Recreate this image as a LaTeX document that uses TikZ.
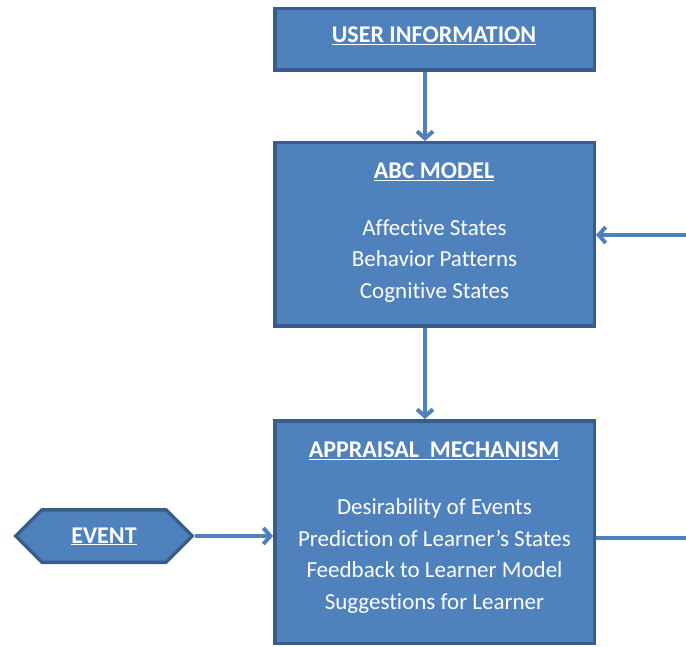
\documentclass[tikz,border=0pt]{standalone}
\usepackage{fontspec}
\setmainfont[Ligatures=NoCommon]{Carlito}
\usetikzlibrary{arrows.meta,shapes.symbols}
\definecolor{boxfill}{HTML}{4F81BD}
\definecolor{boxedge}{HTML}{385D8A}
\begin{document}
\begin{tikzpicture}[x=1pt,y=-1pt,
  box/.style={draw=boxedge, fill=boxfill, line width=3.5pt, inner sep=0pt},
  title/.style={text=white, inner sep=0pt, font=\fontsize{24}{28}\selectfont\bfseries},
  body/.style={text=white, inner sep=0pt, align=center, font=\fontsize{23}{31.7}\selectfont},
  link/.style={draw=boxfill, line width=4pt},
  tip/.style={link, -{Straight Barb[length=7pt,width=16pt]}}]
\useasboundingbox (0,0) rectangle (686,647);

% boxes
\node[box, minimum width=319.5pt, minimum height=61.5pt] (user) at (434.5,39.5) {};
\node[box, minimum width=319.5pt, minimum height=183.5pt] (abc) at (434.5,234.5) {};
\node[box, minimum width=319.5pt, minimum height=222.5pt] (appr) at (434.5,532) {};
\node[box, shape=signal, signal to=west and east, signal pointer angle=90,
      minimum width=176.5pt, minimum height=52.5pt] (ev) at (104,536) {};

% texts
\node[title] (usert) at (434,35.5) {\underline{USER INFORMATION}};
\node[title] (abct) at (434,171.5) {\underline{ABC MODEL}};
\node[body] (abcb) at (434.5,261) {Affective States\\Behavior Patterns\\Cognitive States};
\node[title] (apprt) at (434,450.5) {\underline{APPRAISAL\ \ MECHANISM}};
\node[body] (apprb) at (434.5,556) {Desirability of Events\\Prediction of Learner’s States\\Feedback to Learner Model\\Suggestions for Learner};
\node[title] (evt) at (104,536.5) {\underline{EVENT}};

% connectors (the vertical ones run slightly left of the box centres)
\coordinate (down) at (425,0);
\coordinate (fbin) at (686,235);
\coordinate (out) at (686,538);
\draw[tip] (user.south -| down) -- (abc.north -| down);
\draw[tip] (abc.south -| down) -- (appr.north -| down);
\draw[tip] (fbin) -- (abc.east |- fbin);
\draw[tip] (ev.east) -- (appr.west |- ev.east);
\draw[link] (appr.east |- out) -- (out);
\end{tikzpicture}
\end{document}
